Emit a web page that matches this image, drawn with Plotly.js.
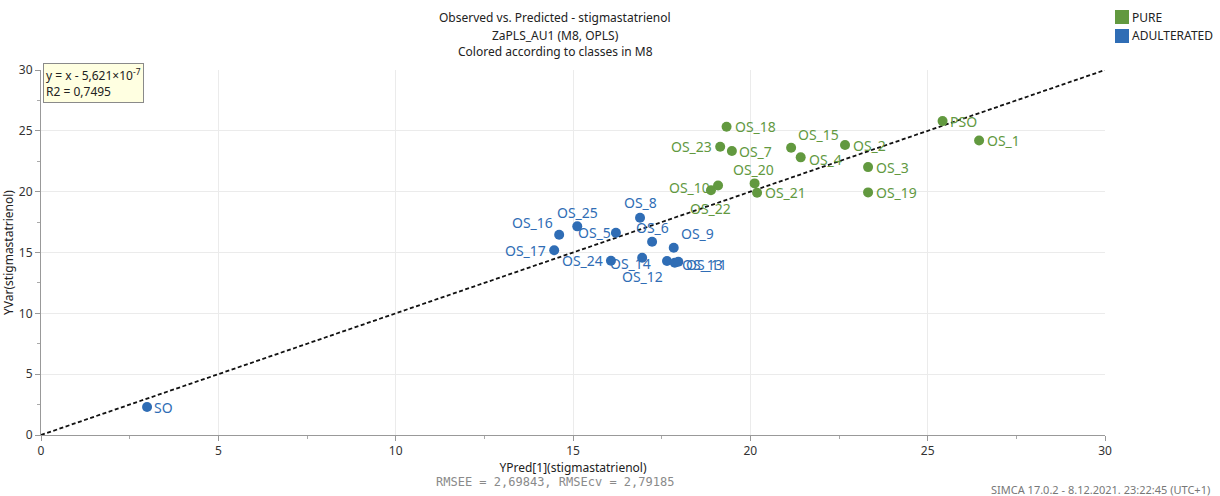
<!DOCTYPE html>
<html>
<head>
<meta charset="utf-8">
<script src="https://cdn.plot.ly/plotly-3.0.1.min.js"></script>
<style>html,body{margin:0;padding:0;background:#fff;}#chart{width:1220px;height:496px;}</style>
</head>
<body>
<div id="chart"></div>
<script>
// ---- data ----
const pureNames = ["OS_18","OS_23","OS_7","OS_15","OS_4","OS_2","OS_3","OS_19","OS_20","OS_21","OS_10","OS_22","PSO","OS_1"];
const purePred  = [19.33,19.15,19.48,21.15,21.42,22.67,23.32,23.32,20.12,20.19,19.09,18.89,25.42,26.45];
const pureObs   = [25.33,23.69,23.34,23.61,22.82,23.83,22.02,19.94,20.68,19.91,20.51,20.11,25.80,24.21];

const adultNames = ["SO","OS_16","OS_25","OS_17","OS_5","OS_8","OS_6","OS_9","OS_24","OS_12","OS_14","OS_13","OS_11"];
const adultPred  = [2.99,14.61,15.12,14.47,16.21,16.89,17.23,17.84,16.07,16.95,17.65,17.87,17.97];
const adultObs   = [2.30,16.46,17.15,15.18,16.62,17.86,15.88,15.39,14.32,14.57,14.30,14.16,14.24];

const classNames = ["PURE","ADULTERATED"];
const regSlope = 1;
const regIntercept = -5.621e-7;
const r2 = 0.7495;
const rmsee = "2,69843";
const rmsecv = "2,79185";
const axisRange = [0, 30];

// ---- label placement (pixel offsets relative to each point) ----
const pureLabelPos = {
  "OS_18":["left",6,0],"OS_23":["right",-6,0],"OS_7":["left",5,0],"OS_15":["left",5,13],
  "OS_4":["left",6,-2],"OS_2":["left",6,0],"OS_3":["left",6,0],"OS_19":["left",6,0],
  "OS_20":["center",-1,14],"OS_21":["left",6,0],"OS_10":["right",-6,-2],"OS_22":["center",0,-18],
  "PSO":["left",5,0],"OS_1":["left",6,0]
};
const adultLabelPos = {
  "SO":["left",5,0],"OS_16":["right",-4,12],"OS_25":["center",0,14],"OS_17":["right",-6,0],
  "OS_5":["right",-3,0],"OS_8":["center",0,15],"OS_6":["center",0,14],"OS_9":["left",5,14],
  "OS_24":["right",-6,0],"OS_12":["center",0,-19],"OS_14":["right",-14,-2],
  "OS_13":["left",5,-2],"OS_11":["left",6,-3]
};

const green = "#62993f";
const blue = "#2f6db5";
const labelFont = "Noto Sans, Open Sans, sans-serif";

const lineX = axisRange.slice();
const lineY = lineX.map(v => regSlope * v + regIntercept);

const traces = [
  {x: lineX, y: lineY, mode: "lines", line: {color: "#111", width: 1.8, dash: "4px,2.5px"}, hoverinfo: "skip", showlegend: false},
  {x: purePred, y: pureObs, mode: "markers", name: classNames[0], marker: {color: green, size: 10}, showlegend: false},
  {x: adultPred, y: adultObs, mode: "markers", name: classNames[1], marker: {color: blue, size: 10}, showlegend: false}
];

const annotations = [];
function addLabels(names, xs, ys, pos, color) {
  names.forEach((n, i) => {
    const p = pos[n];
    annotations.push({x: xs[i], y: ys[i], xref: "x", yref: "y", text: n, showarrow: false,
      xanchor: p[0], yanchor: "middle", xshift: p[1], yshift: p[2],
      font: {family: labelFont, size: 14, color: color}});
  });
}
addLabels(pureNames, purePred, pureObs, pureLabelPos, green);
addLabels(adultNames, adultPred, adultObs, adultLabelPos, blue);

const L = 41, R = 1105, T = 70, B = 435;
const px = v => (v - L) / (R - L);
const py = v => (B - v) / (B - T);
const txtFont = "Noto Sans, Open Sans, sans-serif";

// titles
const titles = ["Observed vs. Predicted - stigmastatrienol", "ZaPLS_AU1 (M8, OPLS)", "Colored according to classes in M8"];
titles.forEach((t, i) => {
  annotations.push({xref: "paper", yref: "paper", x: px(555), y: py(18 + i * 17), text: t, showarrow: false,
    xanchor: "center", yanchor: "middle", font: {family: txtFont, size: 12, color: "#222"}});
});

// equation box
annotations.push({xref: "paper", yref: "paper", x: px(43), y: py(63), xanchor: "left", yanchor: "top",
  text: "y = x - 5,621×10<sup>-7</sup><br>R2 = " + String(r2).replace(".", ","), align: "left", showarrow: false,
  bgcolor: "#ffffe1", bordercolor: "#8a8a8a", borderwidth: 1, borderpad: 2,
  font: {family: txtFont, size: 12, color: "#222"}});

// RMSE line
annotations.push({xref: "paper", yref: "paper", x: px(555), y: py(482), text: "RMSEE = " + rmsee + ", RMSEcv = " + rmsecv,
  showarrow: false, xanchor: "center", yanchor: "middle", font: {family: "DejaVu Sans Mono, monospace", size: 12, color: "#8a8a8a"}});

// footer
annotations.push({xref: "paper", yref: "paper", x: px(1212), y: py(489), text: "SIMCA 17.0.2 - 8.12.2021. 23:22:45 (UTC+1)",
  showarrow: false, xanchor: "right", yanchor: "middle", font: {family: txtFont, size: 11, color: "#777"}});

// legend
const legendColors = [green, blue];
const shapes = [];
classNames.forEach((c, i) => {
  const top = 10 + i * 19;
  shapes.push({type: "rect", xref: "paper", yref: "paper", x0: px(1115), x1: px(1129), y0: py(top + 14), y1: py(top),
    fillcolor: legendColors[i], line: {width: 0}});
  annotations.push({xref: "paper", yref: "paper", x: px(1130), y: py(top + 7), text: c, showarrow: false,
    xanchor: "left", yanchor: "middle", font: {family: txtFont, size: 12, color: "#222"}});
});

const axisCommon = {
  range: axisRange, dtick: 5, tick0: 0, showgrid: true, gridcolor: "#ebebeb", gridwidth: 1,
  zeroline: false, showline: true, linecolor: "#999", linewidth: 1,
  ticks: "outside", ticklen: 5, tickcolor: "#999",
  minor: {dtick: 2.5, ticks: "outside", ticklen: 3, tickcolor: "#aaa", showgrid: false},
  tickfont: {family: txtFont, size: 12, color: "#333"}, fixedrange: true
};

const layout = {
  width: 1220, height: 496,
  margin: {l: L, r: 1220 - R, t: T, b: 496 - B, pad: 0},
  paper_bgcolor: "#fff", plot_bgcolor: "#fff",
  showlegend: false,
  xaxis: Object.assign({}, axisCommon, {title: {text: "YPred[1](stigmastatrienol)", font: {family: txtFont, size: 12, color: "#222"}, standoff: 4}}),
  yaxis: Object.assign({}, axisCommon, {title: {text: "YVar(stigmastatrienol)", font: {family: txtFont, size: 12, color: "#222"}, standoff: 2}}),
  annotations: annotations,
  shapes: shapes
};

Plotly.newPlot("chart", traces, layout, {displayModeBar: false, staticPlot: true});
</script>
</body>
</html>
